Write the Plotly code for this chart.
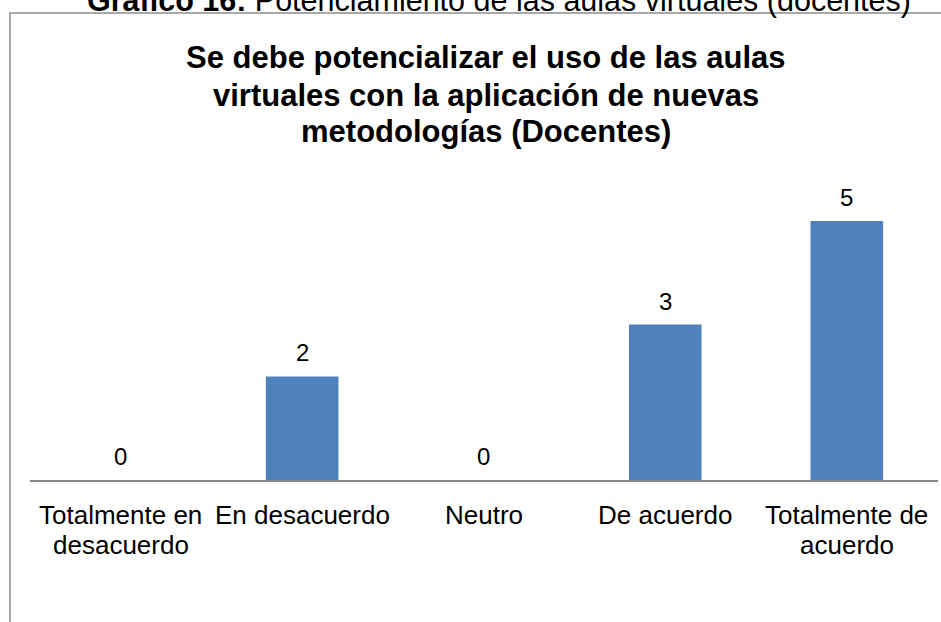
import plotly.graph_objects as go

categories = ["Totalmente en desacuerdo", "En desacuerdo", "Neutro", "De acuerdo", "Totalmente de acuerdo"]
label_lines = [["Totalmente en", "desacuerdo"], ["En desacuerdo"], ["Neutro"], ["De acuerdo"], ["Totalmente de", "acuerdo"]]
values = [0, 2, 0, 3, 5]

title_lines = ["Se debe potencializar el uso de las aulas", "virtuales con la aplicación de nuevas", "metodologías (Docentes)"]
caption_bold = "Gráfico 16:"
caption_rest = " Potenciamiento de las aulas virtuales (docentes)"

W, H = 941, 622
FONT = "Arial, Liberation Sans, sans-serif"

def px(x):
    return x / W

def py(y):
    return 1 - y / H

fig = go.Figure()
fig.add_trace(go.Bar(
    x=categories, y=values, width=0.4,
    marker=dict(color="#4F81BD", line=dict(width=0)),
    hoverinfo="skip",
))

annotations = []
# data labels
for c, v in zip(categories, values):
    annotations.append(dict(
        x=c, y=v, xref="x", yref="y", text=str(v), showarrow=False,
        yanchor="middle", yshift=23.5,
        font=dict(family=FONT, size=24, color="#000000"),
    ))

# category labels (one annotation per line for tight line spacing)
label_centers = [514.5, 544.5]
for c, lines in zip(categories, label_lines):
    for i, t in enumerate(lines):
        annotations.append(dict(
            x=c, y=py(label_centers[i]), xref="x", yref="paper", text=t,
            showarrow=False, xanchor="center", yanchor="middle",
            font=dict(family=FONT, size=26, color="#000000"),
        ))

# chart title
title_centers = [58, 95, 131.5]
for t, yc in zip(title_lines, title_centers):
    annotations.append(dict(
        x=px(486), y=py(yc), xref="paper", yref="paper", text="<b>" + t + "</b>",
        showarrow=False, xanchor="center", yanchor="middle",
        font=dict(family=FONT, size=31, color="#000000"),
    ))

# document caption (partly cut at the top, as in the source)
annotations.append(dict(
    x=px(499), y=py(0), xref="paper", yref="paper",
    text="<b>" + caption_bold + "</b>" + caption_rest,
    showarrow=False, xanchor="center", yanchor="middle",
    font=dict(family=FONT, size=30.5, color="#000000"),
))

fig.update_layout(
    width=W, height=H,
    margin=dict(l=0, r=0, t=0, b=0),
    paper_bgcolor="white", plot_bgcolor="white",
    showlegend=False,
    annotations=annotations,
    xaxis=dict(
        domain=[px(29.8), px(937.6)],
        showticklabels=False,
        showline=True, linecolor="#868686", linewidth=2,
        showgrid=False, zeroline=False, ticks="",
        fixedrange=True,
    ),
    yaxis=dict(
        domain=[py(480), py(169.2)],
        range=[0, 6], visible=False, fixedrange=True,
    ),
    shapes=[dict(
        type="rect", xref="paper", yref="paper",
        x0=px(10), x1=1.05, y0=-0.05, y1=py(13),
        line=dict(color="#8C8C8C", width=1.5), fillcolor="rgba(0,0,0,0)",
    )],
)

fig.write_html(
    "out.html",
    config={"displayModeBar": False, "staticPlot": True},
    post_script="document.body.style.margin='0';document.body.style.overflow='hidden';",
)
